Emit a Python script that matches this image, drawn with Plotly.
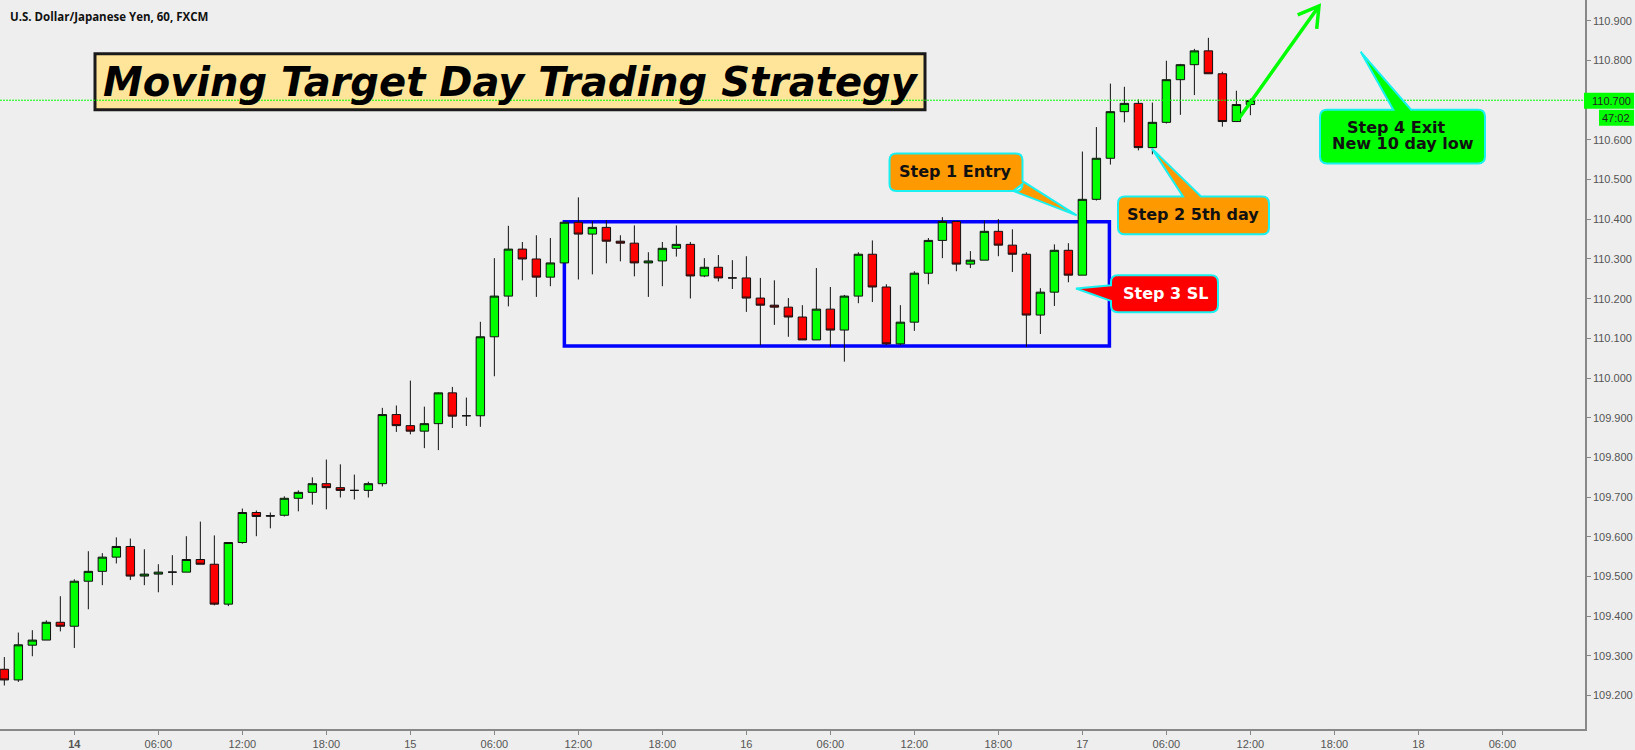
import plotly.graph_objects as go

# hourly USD/JPY candles
opens = [109.259, 109.232, 109.320, 109.333, 109.378, 109.368, 109.482, 109.507, 109.543, 109.570,
         109.495, 109.500, 109.505, 109.505, 109.537, 109.525, 109.424, 109.580, 109.656, 109.648,
         109.649, 109.692, 109.707, 109.729, 109.719, 109.712, 109.712, 109.729, 109.904, 109.876,
         109.862, 109.881, 109.959, 109.901, 109.901, 110.101, 110.204, 110.323, 110.298, 110.252,
         110.288, 110.391, 110.361, 110.378, 110.343, 110.338, 110.288, 110.293, 110.325, 110.335,
         110.255, 110.277, 110.250, 110.250, 110.199, 110.181, 110.176, 110.151, 110.093, 110.171,
         110.118, 110.204, 110.310, 110.227, 110.083, 110.138, 110.262, 110.345, 110.393, 110.285,
         110.295, 110.368, 110.333, 110.310, 110.156, 110.214, 110.320, 110.257, 110.449, 110.553,
         110.671, 110.692, 110.580, 110.644, 110.752, 110.790, 110.825, 110.767, 110.646, 110.689]
highs = [109.290, 109.352, 109.358, 109.383, 109.444, 109.487, 109.558, 109.553, 109.593, 109.590,
         109.563, 109.525, 109.548, 109.596, 109.633, 109.598, 109.580, 109.666, 109.661, 109.656,
         109.697, 109.712, 109.745, 109.790, 109.778, 109.752, 109.734, 109.921, 109.927, 109.990,
         109.924, 109.960, 109.974, 109.947, 110.139, 110.300, 110.382, 110.341, 110.358, 110.351,
         110.391, 110.454, 110.394, 110.396, 110.358, 110.383, 110.315, 110.341, 110.383, 110.341,
         110.300, 110.308, 110.295, 110.305, 110.250, 110.244, 110.199, 110.181, 110.275, 110.227,
         110.207, 110.315, 110.345, 110.234, 110.181, 110.267, 110.351, 110.404, 110.393, 110.318,
         110.396, 110.399, 110.373, 110.315, 110.224, 110.335, 110.338, 110.570, 110.632, 110.742,
         110.734, 110.702, 110.694, 110.800, 110.792, 110.830, 110.858, 110.772, 110.724, 110.704]
lows = [109.218, 109.227, 109.292, 109.333, 109.355, 109.313, 109.411, 109.472, 109.527, 109.485,
        109.472, 109.454, 109.472, 109.505, 109.525, 109.421, 109.419, 109.577, 109.596, 109.616,
        109.646, 109.659, 109.676, 109.664, 109.694, 109.689, 109.694, 109.722, 109.860, 109.854,
        109.819, 109.814, 109.870, 109.875, 109.873, 110.001, 110.178, 110.244, 110.202, 110.229,
        110.288, 110.246, 110.259, 110.287, 110.292, 110.254, 110.202, 110.229, 110.304, 110.198,
        110.252, 110.241, 110.222, 110.164, 110.080, 110.131, 110.101, 110.093, 110.093, 110.075,
        110.038, 110.186, 110.189, 110.080, 110.080, 110.116, 110.234, 110.300, 110.267, 110.275,
        110.295, 110.305, 110.265, 110.075, 110.108, 110.179, 110.239, 110.257, 110.446, 110.537,
        110.644, 110.573, 110.563, 110.641, 110.663, 110.713, 110.767, 110.633, 110.646, 110.662]
closes = [109.232, 109.321, 109.333, 109.378, 109.368, 109.482, 109.507, 109.543, 109.570, 109.495,
          109.500, 109.505, 109.505, 109.537, 109.525, 109.424, 109.580, 109.656, 109.646, 109.647,
          109.692, 109.707, 109.729, 109.719, 109.712, 109.712, 109.729, 109.904, 109.876, 109.862,
          109.881, 109.959, 109.900, 109.901, 110.101, 110.204, 110.323, 110.298, 110.252, 110.288,
          110.391, 110.361, 110.378, 110.343, 110.338, 110.288, 110.293, 110.325, 110.335, 110.255,
          110.277, 110.250, 110.250, 110.199, 110.181, 110.176, 110.151, 110.093, 110.171, 110.118,
          110.204, 110.310, 110.227, 110.083, 110.138, 110.262, 110.345, 110.393, 110.285, 110.295,
          110.368, 110.333, 110.310, 110.156, 110.214, 110.320, 110.257, 110.449, 110.553, 110.671,
          110.692, 110.580, 110.644, 110.752, 110.790, 110.825, 110.767, 110.646, 110.689, 110.699]
bars = list(range(len(opens)))

tick_bars = [5, 11, 17, 23, 29, 35, 41, 47, 53, 59, 65, 71, 77, 83, 89, 95, 101, 107]
tick_labels = ["<b>14</b>", "06:00", "12:00", "18:00", "15", "06:00", "12:00", "18:00", "16",
               "06:00", "12:00", "18:00", "17", "06:00", "12:00", "18:00", "18", "06:00"]
price_ticks = [109.2, 109.3, 109.4, 109.5, 109.6, 109.7, 109.8, 109.9, 110.0,
               110.1, 110.2, 110.3, 110.4, 110.5, 110.6, 110.8, 110.9]

last_price = 110.700
range_low = 110.081
range_high = 110.394
range_start = 40
range_end = 78.93


# prices above were read assuming 396px per yen, the axis labels turned out to be 398px per yen
def recal(values):
    return [last_price - (396 / 398) * (last_price - v) for v in values]


opens, highs, lows, closes = recal(opens), recal(highs), recal(lows), recal(closes)

PLOT_W = 1585
PLOT_H = 731


# drawings are placed in screen pixels, converted to paper coordinates
def X(x):
    return x / PLOT_W


def Y(y):
    return 1 - y / PLOT_H


def callout(x0, y0, x1, y1, tail, color, r=7):
    # rounded box with a pointed tail, tail points are inserted going clockwise
    pts = {"top": [], "right": [], "bottom": [], "left": []}
    pts[tail[0]] = tail[1]
    p = "M%f,%f" % (X(x0 + r), Y(y0))
    for a, b in pts["top"]:
        p += " L%f,%f" % (X(a), Y(b))
    p += " L%f,%f Q%f,%f %f,%f" % (X(x1 - r), Y(y0), X(x1), Y(y0), X(x1), Y(y0 + r))
    for a, b in pts["right"]:
        p += " L%f,%f" % (X(a), Y(b))
    p += " L%f,%f Q%f,%f %f,%f" % (X(x1), Y(y1 - r), X(x1), Y(y1), X(x1 - r), Y(y1))
    for a, b in pts["bottom"]:
        p += " L%f,%f" % (X(a), Y(b))
    p += " L%f,%f Q%f,%f %f,%f" % (X(x0 + r), Y(y1), X(x0), Y(y1), X(x0), Y(y1 - r))
    for a, b in pts["left"]:
        p += " L%f,%f" % (X(a), Y(b))
    p += " L%f,%f Q%f,%f %f,%f Z" % (X(x0), Y(y0 + r), X(x0), Y(y0), X(x0 + r), Y(y0))
    return dict(type="path", path=p, xref="paper", yref="paper", fillcolor=color,
                line=dict(color="#19f0f0", width=2))


def label(x, y, text, size=16, color="#111111", family="DejaVu Sans", anchor="center"):
    return dict(x=X(x), y=Y(y), xref="paper", yref="paper", text=text, showarrow=False,
                xanchor=anchor, yanchor="middle", align="center",
                font=dict(family=family, size=size, color=color))


fig = go.Figure(go.Candlestick(
    x=bars, open=opens, high=highs, low=lows, close=closes,
    increasing=dict(fillcolor="#00ff00", line=dict(color="#111111", width=1)),
    decreasing=dict(fillcolor="#ff0000", line=dict(color="#111111", width=1)),
    whiskerwidth=0, hoverinfo="skip", showlegend=False,
))

shapes = [
    # consolidation box, behind the candles
    dict(type="rect", xref="x", yref="y", x0=range_start, x1=range_end, y0=range_low, y1=range_high,
         line=dict(color="#0000ff", width=3.5), layer="below"),
    # title box
    dict(type="rect", xref="paper", yref="paper", x0=X(95), x1=X(925), y0=Y(110), y1=Y(54),
         fillcolor="#ffe599", line=dict(color="#1a1a1a", width=3)),
    # last price line
    dict(type="line", xref="paper", yref="y", x0=0, x1=1, y0=last_price, y1=last_price,
         line=dict(color="#00ff00", width=1, dash="2px,1px")),
    # price and countdown tags
    dict(type="rect", xref="paper", yref="paper", x0=X(1584), x1=X(1634), y0=Y(109), y1=Y(93),
         fillcolor="#00ff00", line=dict(width=0)),
    dict(type="rect", xref="paper", yref="paper", x0=X(1599), x1=X(1634), y0=Y(126), y1=Y(110),
         fillcolor="#00ff00", line=dict(width=0)),
    # callouts
    callout(889.5, 154, 1022.5, 191.5, ("right", [(1022.5, 181.7), (1076.7, 216), (1013.3, 191.5)]), "#ff9900"),
    callout(1118, 197, 1269, 235, ("top", [(1183, 197), (1152, 149), (1201, 197)]), "#ff9900"),
    callout(1111, 276, 1218, 313, ("left", [(1111, 301.7), (1076, 289.3), (1111, 286)]), "#ff0000"),
    callout(1320, 110, 1485, 164, ("top", [(1393.3, 110), (1360.7, 52), (1411, 110)]), "#00ff00"),
    # target arrow
    dict(type="path", xref="paper", yref="paper",
         path="M%f,%f L%f,%f M%f,%f L%f,%f L%f,%f" % (
             X(1238), Y(120), X(1319), Y(6), X(1297.7), Y(15), X(1319), Y(6), X(1316.7), Y(29)),
         line=dict(color="#00ff00", width=3.5)),
]

annotations = [
    label(8, 16.5, "<b>U.S. Dollar/Japanese Yen, 60, FXCM</b>", size=11.5, family="Open Sans", anchor="left"),
    label(510.5, 82, "<b><i>Moving Target Day Trading Strategy</i></b>", size=40, color="#000000"),
    label(956, 171.7, "<b>Step 1 Entry</b>"),
    label(1193.3, 215, "<b>Step 2 5th day</b>"),
    label(1165.7, 294.3, "<b>Step 3 SL</b>", color="#ffffff"),
    label(1396, 128.3, "<b>Step 4 Exit</b>"),
    label(1402.7, 144.3, "<b>New 10 day low</b>"),
    label(1611.3, 101.5, "110.700", size=11, color="#222222", family="Liberation Sans"),
    label(1616, 118, "47:02", size=11, color="#222222", family="Liberation Sans"),
]

fig.update_layout(
    width=1635, height=750,
    margin=dict(l=0, r=50, t=0, b=19),
    paper_bgcolor="#eeeeee", plot_bgcolor="#eeeeee",
    boxgap=0.4, boxgroupgap=0,
    shapes=shapes, annotations=annotations,
    font=dict(family="Liberation Sans", size=11, color="#555555"),
    showlegend=False,
)
fig.update_xaxes(
    range=[-0.31, 112.9], rangeslider_visible=False, showgrid=False, zeroline=False,
    tickmode="array", tickvals=tick_bars, ticktext=tick_labels, ticks="outside", ticklen=4,
    tickcolor="#888888", showline=True, linecolor="#888888", linewidth=1.5,
)
fig.update_yaxes(
    range=[109.1158, 110.9525], side="right", showgrid=False, zeroline=False,
    tickmode="array", tickvals=price_ticks, tickformat=".3f", ticks="outside", ticklen=4,
    tickcolor="#888888", showline=True, linecolor="#888888", linewidth=1.5,
)

# page margin would push the chart 8px off the window
fig.write_html("out.html", config={"displayModeBar": False},
               post_script="document.body.style.margin='0';document.body.style.overflow='hidden';")
